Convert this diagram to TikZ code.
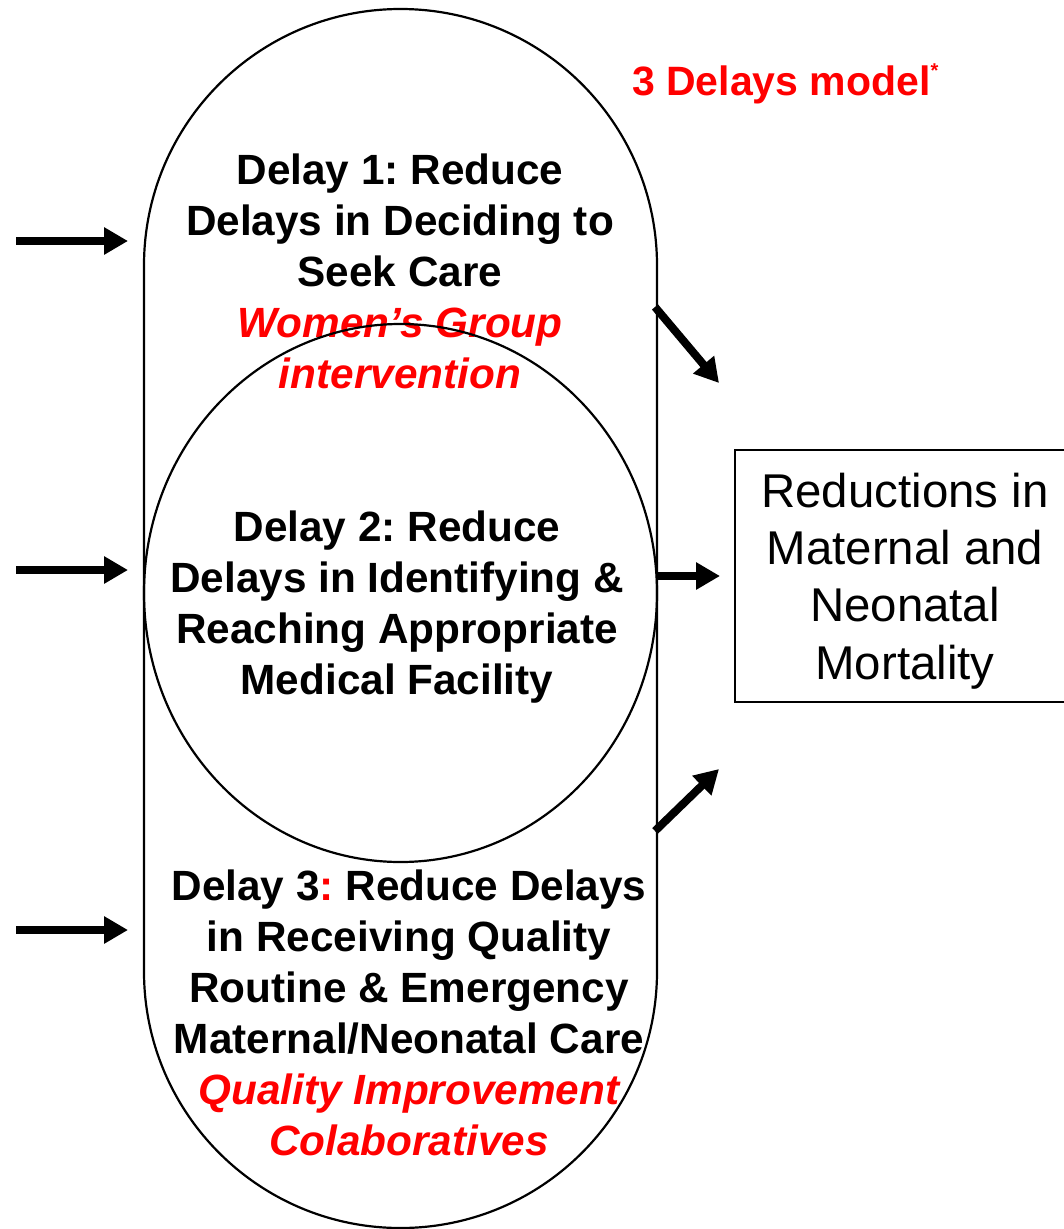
\documentclass[tikz,border=0pt]{standalone}
\usepackage{fontspec}
\setmainfont{Liberation Sans}
\usetikzlibrary{arrows.meta}
\frenchspacing
\begin{document}
\begin{tikzpicture}[x=1pt,y=-1pt,
  delaytext/.style={font=\fontsize{42.3}{51}\selectfont\bfseries, align=center, inner sep=0pt},
  resulttext/.style={font=\fontsize{47.4}{57.3}\selectfont, align=center, inner sep=0pt},
  outline/.style={line width=2.2pt},
  fatarrow/.style={line width=8pt, -{Triangle[length=24pt,width=26pt]}}
]
\useasboundingbox (0,0) rectangle (1063,1229);
\newcommand{\rednote}[1]{\textcolor{red}{\itshape #1}}

% title
\node[anchor=base west, inner sep=0pt, text=red, font=\fontsize{41}{49}\selectfont\bfseries]
  (title) at (632,95) {3 Delays model\raisebox{18pt}{\fontsize{20}{20}\selectfont *}};

% the three delays
\node[delaytext] (d1) at (400,271) {Delay 1: Reduce\\Delays in Deciding to\\Seek Care\\
  \rednote{Women’s Group}\\\rednote{intervention}};
\node[delaytext] (d2) at (397,607) {Delay 2: Reduce\\Delays in Identifying \&\\
  Reaching Appropriate\\Medical Facility};
\node[delaytext] (d3) at (409,1013) {Delay 3\textcolor{red}{:} Reduce Delays\\in Receiving Quality\\
  Routine \& Emergency\\Maternal/Neonatal Care\\\rednote{Quality Improvement}\\\rednote{Colaboratives}};

% outcome box (runs past the right edge)
\node[draw, line width=2.6pt, minimum width=340pt, minimum height=252pt, inner sep=0pt]
  (outcome) at (905,576) {};
\node[resulttext] (outtext) at (905,581) {Reductions in\\Maternal and\\Neonatal\\Mortality};

% outer capsule and middle circle
\draw[outline, rounded corners=256.5pt] (144,9) rectangle (657,1228);
\draw[outline] (400.5,593) ellipse [x radius=256.5pt, y radius=269pt];

% arrow end points
\coordinate (a1s) at (16,241);  \coordinate (a1e) at (128,241);
\coordinate (a2s) at (16,570);  \coordinate (a2e) at (128,570);
\coordinate (a3s) at (16,930);  \coordinate (a3e) at (128,930);
\coordinate (b1s) at (655,307); \coordinate (b1e) at (719,383);
\coordinate (b2s) at (657,576); \coordinate (b2e) at (720,576);
\coordinate (b3s) at (655,831); \coordinate (b3e) at (719,769);

\draw[fatarrow] (a1s) -- (a1e);
\draw[fatarrow] (a2s) -- (a2e);
\draw[fatarrow] (a3s) -- (a3e);
\draw[fatarrow] (b1s) -- (b1e);
\draw[fatarrow] (b2s) -- (b2e);
\draw[fatarrow] (b3s) -- (b3e);
\end{tikzpicture}
\end{document}
